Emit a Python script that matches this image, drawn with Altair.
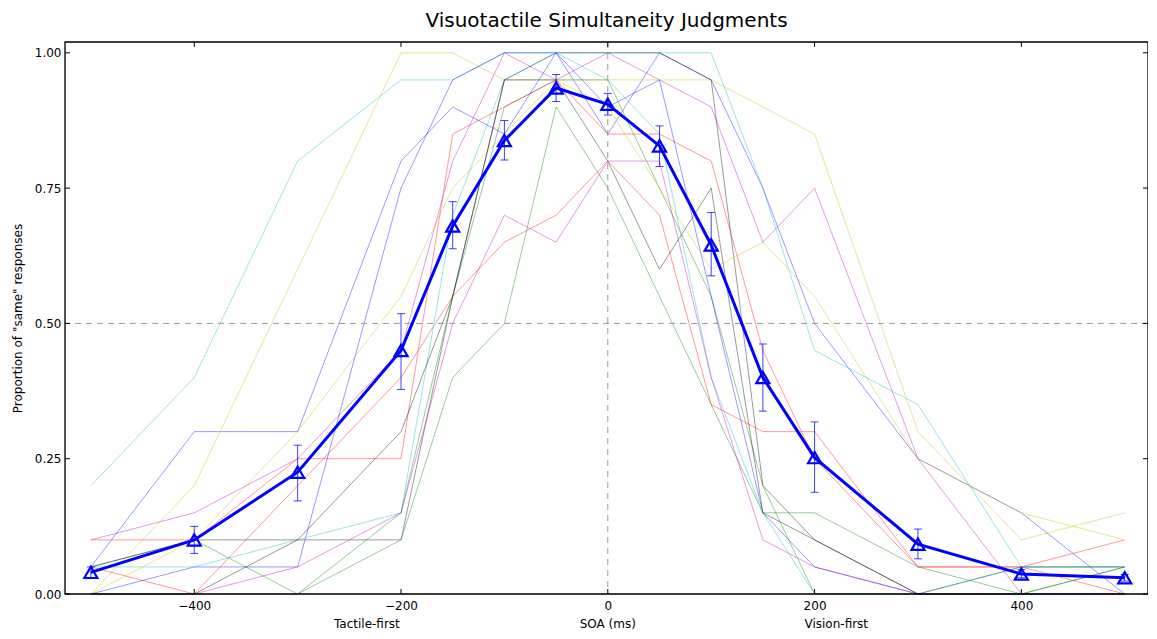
import altair as alt
import pandas as pd

# ---- data ----
soa = [-500, -400, -300, -200, -150, -100, -50, 0, 50, 100, 150, 200, 300, 400, 500]

s01 = [.05, .30, .30, .80, .90, .85, 1.0, .85, 1.0, .95, .75, .50, .25, .15, .00]
s02 = [.05, .10, .00, .15, .55, .90, .95, .95, .75, .55, .20, .00, .00, .00, .05]
s03 = [.10, .10, .25, .25, .85, .90, .95, .85, .85, .80, .45, .25, .05, .05, .10]
s04 = [.20, .40, .80, .95, .95, 1.0, 1.0, 1.0, 1.0, 1.0, .75, .45, .35, .05, .05]
s05 = [.10, .15, .25, .45, .80, 1.0, .95, 1.0, .95, .90, .65, .75, .25, .00, .00]
s06 = [.00, .20, .60, 1.0, 1.0, .95, .95, .95, .95, .95, .90, .85, .30, .10, .15]
s07 = [.05, .10, .10, .10, .55, .95, 1.0, 1.0, 1.0, .95, .20, .10, .00, .05, .05]
s08 = [.00, .05, .05, .75, .95, 1.0, 1.0, .90, .95, .55, .15, .05, .00, .00, .00]
s09 = [.00, .00, .00, .10, .40, .50, .90, .75, .55, .35, .15, .15, .05, .00, .05]
s10 = [.05, .00, .20, .40, .55, .65, .70, .80, .70, .35, .30, .30, .05, .05, .00]
s11 = [.05, .05, .10, .15, .70, .95, 1.0, .95, .85, .40, .15, .00, .00, .05, .05]
s12 = [.00, .00, .05, .15, .50, .70, .65, .80, .80, .40, .10, .05, .00, .00, .00]
s13 = [.00, .10, .30, .55, .75, .85, .95, .90, .75, .60, .65, .55, .25, .15, .10]
s14 = [.00, .00, .10, .30, .55, .95, .95, .80, .60, .75, .15, .10, .00, .00, .00]

subjects = [s01, s02, s03, s04, s05, s06, s07, s08, s09, s10, s11, s12, s13, s14]
subject_names = ["S%02d" % (i + 1) for i in range(len(subjects))]
subject_colors = ["#0000ff", "#008000", "#ff0000", "#00bfbf", "#bf00bf", "#bfbf00", "#000000",
                  "#0000ff", "#008000", "#ff0000", "#00bfbf", "#bf00bf", "#bfbf00", "#000000"]

mean_vals = [0.040, 0.100, 0.225, 0.450, 0.680, 0.838, 0.935, 0.905, 0.828, 0.645, 0.400, 0.252, 0.092, 0.037, 0.030]
err_lo = [0.030, 0.075, 0.172, 0.378, 0.638, 0.802, 0.910, 0.885, 0.790, 0.588, 0.338, 0.188, 0.065, 0.030, 0.024]
err_hi = [0.050, 0.125, 0.275, 0.518, 0.725, 0.875, 0.960, 0.925, 0.865, 0.705, 0.462, 0.318, 0.120, 0.045, 0.036]

x_ticks = [-400, -200, 0, 200, 400]
y_ticks = [0.0, 0.25, 0.5, 0.75, 1.0]
x_notes = ["Tactile-first", "SOA (ms)", "Vision-first"]
x_note_pos = [-233, 0, 221]

W, H = 1083, 552
FONT = "DejaVu Sans"

rows = []
for name, vals in zip(subject_names, subjects):
    for x, v in zip(soa, vals):
        rows.append({"subject": name, "soa": x, "p": v})
subj_df = pd.DataFrame(rows)
mean_df = pd.DataFrame({"soa": soa, "p": mean_vals, "lo": err_lo, "hi": err_hi})
xt_df = pd.DataFrame({"t": x_ticks})
yt_df = pd.DataFrame({"t": y_ticks})
note_df = pd.DataFrame({"x": x_note_pos, "label": x_notes})

xs = alt.Scale(domain=[-525, 522.5], nice=False, zero=False)
ys = alt.Scale(domain=[0, 1.02], nice=False, zero=True)

X = alt.X("soa:Q", scale=xs,
          axis=alt.Axis(values=x_ticks, title=None, grid=False, domain=False, ticks=False,
                        labelPadding=6, labelFontSize=12, labelFont=FONT, labelColor="#000"))
Y = alt.Y("p:Q", scale=ys,
          axis=alt.Axis(values=y_ticks, format=".2f", title='Proportion of "same" responses',
                        grid=False, domain=False, ticks=False, labelPadding=4,
                        labelFontSize=12, labelFont=FONT, labelColor="#000",
                        titleFontSize=12, titleFont=FONT, titleFontWeight="normal",
                        titlePadding=10, titleColor="#000"))

subj = alt.Chart(subj_df).mark_line(strokeWidth=1, opacity=0.4).encode(
    x=X, y=Y,
    color=alt.Color("subject:N", scale=alt.Scale(domain=subject_names, range=subject_colors), legend=None),
    detail="subject:N",
)

ref_h = alt.Chart(pd.DataFrame({"p": [0.5]})).mark_rule(
    color="#999999", strokeDash=[6, 5], strokeWidth=1).encode(y=alt.Y("p:Q", scale=ys))
ref_v = alt.Chart(pd.DataFrame({"soa": [0]})).mark_rule(
    color="#999999", strokeDash=[6, 5], strokeWidth=1).encode(x=alt.X("soa:Q", scale=xs))

err = alt.Chart(mean_df).mark_rule(color="#0000ff", strokeWidth=1, opacity=0.75).encode(
    x=alt.X("soa:Q", scale=xs), y=alt.Y("lo:Q", scale=ys), y2="hi:Q")
cap_lo = alt.Chart(mean_df).mark_tick(color="#0000ff", orient="horizontal", size=8, thickness=1, opacity=0.75).encode(
    x=alt.X("soa:Q", scale=xs), y=alt.Y("lo:Q", scale=ys))
cap_hi = alt.Chart(mean_df).mark_tick(color="#0000ff", orient="horizontal", size=8, thickness=1, opacity=0.75).encode(
    x=alt.X("soa:Q", scale=xs), y=alt.Y("hi:Q", scale=ys))

mean_line = alt.Chart(mean_df).mark_line(color="#0000ff", strokeWidth=3).encode(
    x=alt.X("soa:Q", scale=xs), y=alt.Y("p:Q", scale=ys))
mean_pts = alt.Chart(mean_df).mark_point(shape="triangle-up", filled=False, color="#0000ff",
                                         strokeWidth=2.2, size=170, opacity=1).encode(
    x=alt.X("soa:Q", scale=xs), y=alt.Y("p:Q", scale=ys))

# inward ticks on all four sides
tb = alt.Chart(xt_df).mark_rule(color="#000", strokeWidth=1).encode(
    x=alt.X("t:Q", scale=xs), y=alt.value(H), y2=alt.value(H - 5))
tt = alt.Chart(xt_df).mark_rule(color="#000", strokeWidth=1).encode(
    x=alt.X("t:Q", scale=xs), y=alt.value(0), y2=alt.value(5))
tl = alt.Chart(yt_df).mark_rule(color="#000", strokeWidth=1).encode(
    y=alt.Y("t:Q", scale=ys), x=alt.value(0), x2=alt.value(5))
tr = alt.Chart(yt_df).mark_rule(color="#000", strokeWidth=1).encode(
    y=alt.Y("t:Q", scale=ys), x=alt.value(W), x2=alt.value(W - 5))

frame = alt.Chart(pd.DataFrame({"k": [0]})).mark_rect(fill=None, stroke="#000", strokeWidth=1.3).encode(
    x=alt.value(0), x2=alt.value(W), y=alt.value(0), y2=alt.value(H))

notes = alt.Chart(note_df).mark_text(fontSize=12, font=FONT, color="#000", baseline="middle").encode(
    x=alt.X("x:Q", scale=xs), y=alt.value(H + 30), text="label:N")

chart = alt.layer(
    subj, ref_h, ref_v, err, cap_lo, cap_hi, mean_line, mean_pts, tb, tt, tl, tr, frame, notes
).properties(
    width=W, height=H,
    title=alt.TitleParams("Visuotactile Simultaneity Judgments", fontSize=20, font=FONT,
                          fontWeight="normal", color="#000", offset=10),
    autosize=alt.AutoSizeParams(type="none"),
    padding={"left": 57, "top": 34, "right": 0, "bottom": 37},
).configure_view(stroke=None).configure(background="white")

chart.save("out.html", embed_options={"renderer": "svg", "actions": False})
